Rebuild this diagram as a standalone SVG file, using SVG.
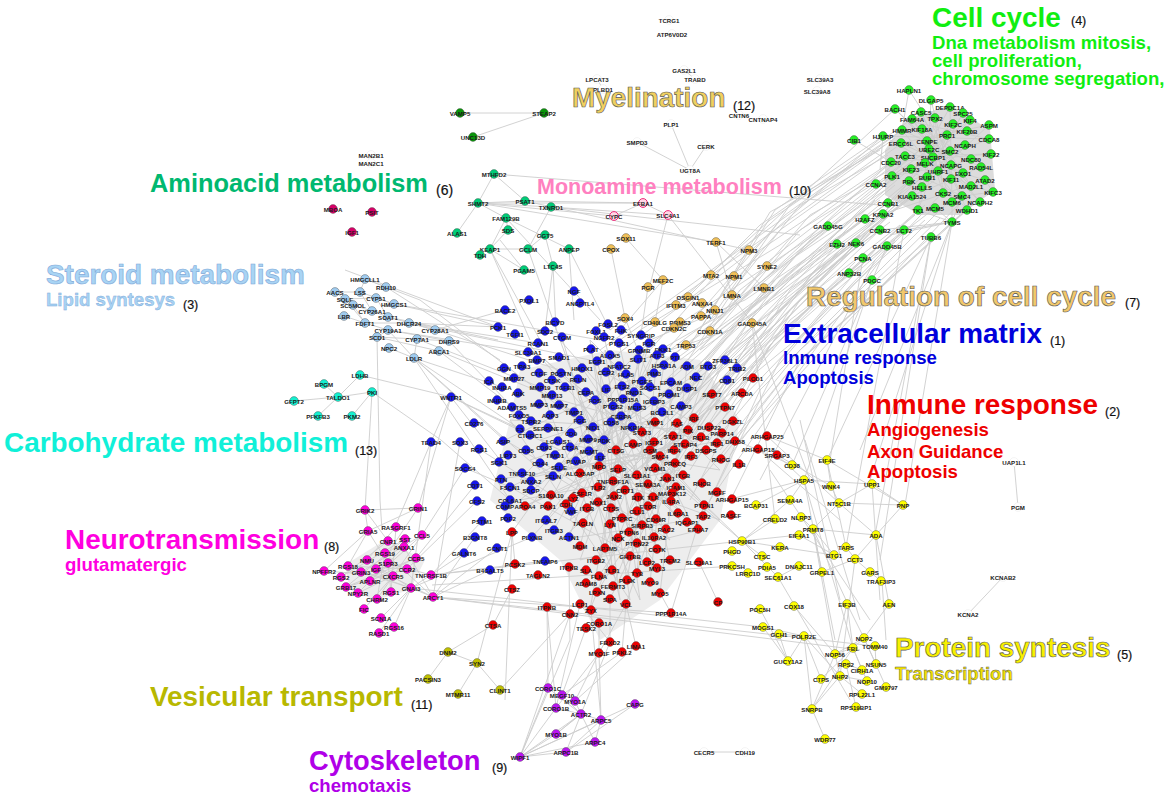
<svg xmlns="http://www.w3.org/2000/svg" width="1166" height="797" viewBox="0 0 1166 797">
<style>
text{font-family:"Liberation Sans",Arial,sans-serif}
#nodes text{font-size:6.1px;font-weight:bold;fill:#1a1a1a;text-anchor:middle;dominant-baseline:central}
#nodes circle{r:4.4px;stroke:#444;stroke-width:.4}
.g circle{fill:#26f026}.t circle{fill:#f0c058}.b circle{fill:#1616f0}.r circle{fill:#f00000}.y circle{fill:#ffff00}
.m circle{fill:#ff00dc}.p circle{fill:#bc14f4}.s circle{fill:#a0ccf0}.c circle{fill:#14f0d0}.a circle{fill:#00cc78}
.d circle{fill:#0a960a}.o circle{fill:#c0c000}.k circle{fill:#d80068}
.q circle{fill:#ffd8e6;stroke:#ee2878!important;stroke-width:1!important}
.w circle{fill:#fff;stroke:#e4e4e4!important}
.e{fill:none;stroke:#cdcdcd;stroke-width:.9}
.f{stroke:none}
.L{font-weight:bold;font-size:27.9px}
.S{font-weight:bold;font-size:18.6px}
.n{font-size:12.5px;fill:#111;stroke:#111;stroke-width:.2}
.o1{stroke:#555;stroke-width:.6}
</style>
<g id="connectors">
<path class="f" fill="#dcdcdc" d="M905 120L950 105L990 130L995 190L960 215L920 215L885 195L885 150Z"/>
<path class="f" fill="#ededed" d="M520 370L610 350L700 360L740 420L720 520L660 600L600 640L560 560L490 500L510 420Z"/>
<path class="f" fill="#ededed" d="M345 565L385 540L425 560L410 590L375 600L350 590Z"/>
<path class="e" d="M473 137L544 113M460 113L544 113M494 174L478 203M494 174L525 201M494 174L880 205M478 203L525 201M478 203L551 207M478 203L457 233M478 203L506 218M478 203L614 216M478 203L716 242M478 203L643 203M525 201L749 250M551 207L528 249M551 207L800 235M525 201L643 203M551 207L668 215M506 218L508 230M506 218L490 249M506 218L569 249M506 218L600 320M508 230L490 249M490 249L528 249M490 249L524 270M490 249L540 340M490 249L530 340M545 235L528 249M545 235L553 266M528 249L560 340M569 249L574 320M569 249L610 330M553 266L556 330M553 266L545 330M524 270L500 240M643 203L614 216M668 215L750 320M668 215L650 285M643 203L668 215M626 238L663 280M611 249L625 318M716 242L764 288M716 242L732 295M663 280L620 330M648 287L640 340M625 318L610 330M625 318L650 380M663 280L655 322"/>
<path class="e" d="M684 70L695 79M597 79L603 89M671 124L690 170M637 142L690 170M706 146L690 170M1014 462L1018 507M704 752L745 752M1003 577L968 614"/>
<path class="e" d="M854 140L891 162M909 90L902 130M883 136L880 170M952 222L935 208M952 222L952 202M952 222L967 210M952 222L918 210M952 222L962 196M952 222L904 230M952 222L880 230M952 222L890 235M993 192L985 180M993 192L971 186M993 192L962 196M952 222L860 450M931 237L880 560M952 222L905 505M931 237L875 535M904 230L846 547M872 280L804 480M875 260L760 480M863 258L830 460M887 246L792 465M931 237L827 460M952 222L870 480M828 226L620 400M837 244L690 420M856 243L700 400M752 323L810 480M752 323L775 519"/>
<path class="e" d="M880 150L770 212L700 330M883 136L775 210L690 345M891 162L760 250L688 360M876 184L740 290L700 345M888 203L745 300L650 340M883 214L730 330L640 360M865 219L720 330L660 385M880 230L735 340L680 400M904 230L770 340L700 400M912 196L760 320L670 420M909 181L750 310L690 380M892 176L730 310L660 350M902 143L780 230L700 320M902 130L770 220L676 305M912 119L760 225L688 297M905 156L770 260L710 331M922 187L780 300L730 370M935 208L790 320L700 437M918 210L775 340L680 440M952 222L790 370L700 480M931 237L800 350L720 450M887 246L780 340L650 460M863 258L730 390L660 500M837 244L680 360M856 243L700 350M828 226L640 350M880 230L700 400L620 480M904 230L740 400L640 510M895 109L720 270L650 350M883 136L740 260L610 360M891 162L720 320L625 390M950 200L760 390L703 516M967 210L790 370L721 459M935 180L790 290L735 380M960 215L800 360L731 499M920 160L770 290L620 400M900 170L750 320L655 470M875 200L720 360L640 470M885 215L700 400L600 500"/>
<path class="e" d="M885 145L790 205L710 320M888 155L800 205L725 300M890 170L810 215L720 320M880 180L800 230L700 350M885 190L810 240L705 360M880 200L790 260L695 370M885 205L800 265L670 380M880 215L790 280L660 400M890 222L800 290L675 410M900 225L810 295L690 420M915 215L815 300L705 430M925 220L825 310L715 440M940 218L830 325L730 455M900 200L790 310L730 400M895 185L780 280L705 380M905 170L790 260L670 350M895 160L780 245L640 330M890 148L775 230L620 340M895 138L770 228L600 350M905 128L785 215L645 375M920 150L800 250L680 395M930 170L810 280L650 440M945 190L820 320L710 410M958 205L840 330L740 440M925 205L830 290L620 470M915 190L815 270L660 480M905 200L800 300L690 470M895 210L780 320L640 440M870 232L770 320L610 450M860 235L760 330L600 440M845 245L750 340L670 470M855 262L770 345L690 500M875 250L780 360L700 520M895 240L800 370L710 500"/>
<path class="e" d="M909 90L971 186L905 120L989 139L892 176L970 120L888 203L965 145L876 184L953 124L912 196L981 167L902 130L967 210L921 112L962 196L891 162L991 154L905 156L985 180L883 214L947 135L918 210L935 118L943 193L927 141L952 202L950 107L909 181L971 159L922 129L963 173L901 143L989 125L922 187L963 113L927 177L931 100L951 179L912 119L980 202L929 149L892 176L951 165L938 171L925 163L933 157L950 151L911 169L989 139L883 136L971 186L895 109L963 173"/>
<path class="e" d="M530 345L680 520L560 400L700 440L520 480L640 350L600 560L660 400L540 440L720 470L590 340L630 600L510 420L690 430L570 520L650 340L610 480L720 520L545 360L680 470L520 500L620 420L700 500L560 340L640 560L580 400L670 540L505 440L630 380L590 610L680 380L555 470L725 440L600 370L612 570L540 387L670 500L580 460L700 380L625 520L530 460L650 420L600 500L720 400L560 540L690 520L605 350L640 600L570 440L660 570L510 487L610 440L655 350L580 560L700 530L552 395L640 480L596 390L680 440L525 506L620 460L650 530L595 400L620 600L570 380L660 456L500 479M619 366L548 506M626 374L512 532M622 386L580 546M623 399L569 537M613 406L610 524M621 416L546 520M611 422L554 530M632 427L532 537M597 361L642 525M582 368L687 522M562 337L618 538M591 349L637 543M604 337L657 549M619 343L670 560M638 359L647 562M657 355L637 573M664 365L627 580M675 357L650 582M687 366L660 593M708 366L626 604M696 377L613 586M727 380L599 576M737 368L597 592M725 360L610 599"/>
<path class="e" d="M394 304L600 340M409 323L590 360M435 330L560 370M439 351L560 400M417 339L540 387M409 323L538 343M388 330L528 352M414 358L540 470M414 358L520 429M414 358L502 387M414 358L510 500M439 351L531 421M449 341L512 407M377 337L380 500L382 530M386 287L500 360M435 330L505 310M345 270L498 327M394 304L498 327M409 323L498 327M365 279L420 300L590 430M388 317L498 340M372 392L441 440L510 500M360 375L451 397L560 450M451 397L418 508M451 397L520 429M451 397L431 442M451 397L500 460M372 392L338 397M360 375L338 397M324 384L338 397M294 401L338 397M318 416L338 397M352 416L372 392M372 392L365 510M414 358L438 380L504 440M335 292L360 292M335 292L353 305M345 299L376 298M360 292L365 279M360 292L394 304M376 298L394 304M372 311L388 317M372 311L353 305M365 323L409 323M365 323L388 330M365 323L344 316M353 305L365 323M345 299L365 323M377 337L417 339M377 337L439 351M377 337L388 330M388 330L414 358M389 348L414 358M409 323L435 330M388 330L449 341M417 339L449 341M417 339L414 358M388 317L435 330M365 279L386 287M360 292L372 311M376 298L388 317"/>
<path class="e" d="M431 442L395 527M431 442L411 588M460 442L433 597M465 468L422 535M475 485L416 558M477 501L407 569M482 521L431 575M465 468L510 487M479 449L560 500M512 532L515 564M512 532L505 700M505 506L510 500M475 537L433 597M464 553L411 588M497 548L433 597M490 570L433 597M532 537L411 588M545 561L431 575M512 589L493 625M569 567L570 640L520 757M547 607L556 708M547 607L548 688M570 614L520 757M570 614L500 690M512 532L477 663M493 625L448 652M448 652L477 663M448 652L428 679M477 663L458 694M477 663L500 690M433 597L875 646M433 597L860 650M411 588L763 627M431 575L742 541M432 585L735 566M433 597L671 613M699 562L718 602M704 505L671 613M660 593L671 613M626 604L636 646M626 604L622 652M626 604L599 653M610 599L610 642M599 623L599 653M586 628L562 695M599 653L575 701M599 653L601 720M599 653L556 708M610 642L581 714M622 652L562 695M636 646L575 701M580 604L610 642M591 610L601 720M580 604L556 708"/>
<path class="e" d="M520 757L548 688M520 757L556 708M520 757L581 714M520 757L556 734M520 757L566 752M520 757L595 742M520 757L635 704M520 757L601 720M548 688L581 714M562 695L581 714M575 701L581 714M581 714L601 720M581 714L566 752M581 714L595 742M581 714L556 734M601 720L566 752M601 720L595 742M635 704L566 752M556 708L581 714M556 734L581 714"/>
<path class="e" d="M365 510L418 508M365 510L368 531M365 510L388 541M368 531L324 571M368 531L348 566M368 531L388 563M418 508L368 531M418 508L388 553M396 527L367 560M422 535L361 572M405 539L346 587M388 541L341 577M404 547L358 593M385 553L377 599M416 558L370 581M367 560L411 588M388 563L391 592M348 566L407 569M376 569L433 597M407 569L346 587M361 572L411 588M393 576L358 593M431 575L388 563M341 577L405 539M324 571L393 576M370 581L422 535M346 587L416 558M411 588L433 597M411 588L381 618M411 588L394 627M411 588L379 633M377 599L422 535M364 609L393 576M391 592L396 527M411 588L348 566M433 597L385 553M433 597L404 547"/>
<path class="e" d="M767 436L827 460M767 436L839 503M758 449L840 520M777 455L831 486M777 455L804 480M735 440L792 465M731 499L804 480M804 480L790 500M804 480L872 484M804 480L756 505M804 480L835 640M804 480L853 648M827 460L831 486M827 460L903 505M827 460L846 547M831 486L839 503M872 484L839 503M872 484L903 505M872 484L880 600M839 503L903 505M839 503L876 535M839 503L813 529M903 505L876 535M876 535L889 604M876 535L855 559M813 529L834 555M813 529L876 535M813 529L846 600M813 529L835 654M813 529L822 572M799 535L742 541M799 535L834 555M790 500L742 541M801 517L813 529M775 519L742 541M742 541L780 547M742 541L778 577M742 541L762 556M742 541L700 500M742 541L660 470M780 547L834 555M855 559L822 572M855 559L870 572M855 559L840 676M846 547L855 559M870 572L881 581M889 604L864 638M847 604L853 648M847 604L835 654M847 604L864 638M794 606L835 654M760 609L788 661M763 627L788 661M763 627L804 636M779 634L788 661M779 634L804 636M788 661L804 636M804 636L812 709M804 636L821 679M804 636L840 676M812 709L825 739M812 709L835 654M812 709L853 648M812 709L840 676M821 679L853 648M835 654L864 638M835 654L853 648M835 654L840 676M853 648L864 638M853 648L862 670M853 648L867 681M864 638L886 687M864 638L876 664M846 664L862 670M840 676L867 681M840 676L862 694M846 664L856 707M875 646L876 664M799 566L778 577M778 577L850 700M882 581L886 640M840 600L800 420M860 620L805 440M870 620L770 470"/>
</g>
<g id="nodes">
<g class="w" id="w1" transform="translate(669 20)"><circle/><text>TCRG1</text></g>
<g class="w" id="w2" transform="translate(672 34)"><circle/><text>ATP6V0D2</text></g>
<g class="w" id="w3" transform="translate(597 79)"><circle/><text>LPCAT3</text></g>
<g class="w" id="w4" transform="translate(603 89)"><circle/><text>PLBD1</text></g>
<g class="w" id="w5" transform="translate(684 70)"><circle/><text>GAS2L1</text></g>
<g class="w" id="w6" transform="translate(695 79)"><circle/><text>TRABD</text></g>
<g class="w" id="w7" transform="translate(820 79)"><circle/><text>SLC39A3</text></g>
<g class="w" id="w8" transform="translate(817 91)"><circle/><text>SLC39A8</text></g>
<g class="w" id="w9" transform="translate(739 115)"><circle/><text>CNTN6</text></g>
<g class="w" id="w10" transform="translate(763 119)"><circle/><text>CNTNAP4</text></g>
<g class="w" id="w11" transform="translate(671 124)"><circle/><text>PLP1</text></g>
<g class="w" id="w12" transform="translate(637 142)"><circle/><text>SMPD3</text></g>
<g class="w" id="w13" transform="translate(706 146)"><circle/><text>CERK</text></g>
<g class="w" id="w14" transform="translate(690 170)"><circle/><text>UGT8A</text></g>
<g class="w" id="w15" transform="translate(371 155)"><circle/><text>MAN2B1</text></g>
<g class="w" id="w16" transform="translate(371 163)"><circle/><text>MAN2C1</text></g>
<g class="w" id="w17" transform="translate(1014 462)"><circle/><text>UAP1L1</text></g>
<g class="w" id="w18" transform="translate(1018 507)"><circle/><text>PGM</text></g>
<g class="w" id="w19" transform="translate(1003 577)"><circle/><text>KCNAB2</text></g>
<g class="w" id="w20" transform="translate(968 614)"><circle/><text>KCNA2</text></g>
<g class="w" id="w21" transform="translate(704 752)"><circle/><text>CECR5</text></g>
<g class="w" id="w22" transform="translate(745 752)"><circle/><text>CDH19</text></g>
<g class="d" id="d1" transform="translate(460 113)"><circle/><text>VAMP5</text></g>
<g class="d" id="d2" transform="translate(544 113)"><circle/><text>STEAP2</text></g>
<g class="d" id="d3" transform="translate(473 137)"><circle/><text>UNC13D</text></g>
<g class="k" id="k1" transform="translate(333 209)"><circle/><text>MBOA</text></g>
<g class="k" id="k2" transform="translate(372 212)"><circle/><text>PSIT</text></g>
<g class="k" id="k3" transform="translate(352 232)"><circle/><text>IGF1</text></g>
<g class="g" id="g1" transform="translate(909 90)"><circle/><text>HAPLN1</text></g>
<g class="g" id="g2" transform="translate(931 100)"><circle/><text>DLGAP5</text></g>
<g class="g" id="g3" transform="translate(950 107)"><circle/><text>DEPDC1A</text></g>
<g class="g" id="g4" transform="translate(895 109)"><circle/><text>BACH1</text></g>
<g class="g" id="g5" transform="translate(921 112)"><circle/><text>CASC5</text></g>
<g class="g" id="g6" transform="translate(963 113)"><circle/><text>SPC25</text></g>
<g class="g" id="g7" transform="translate(970 120)"><circle/><text>KIF4</text></g>
<g class="g" id="g8" transform="translate(935 118)"><circle/><text>TPX2</text></g>
<g class="g" id="g9" transform="translate(912 119)"><circle/><text>FAM64A</text></g>
<g class="g" id="g10" transform="translate(953 124)"><circle/><text>KIF2C</text></g>
<g class="g" id="g11" transform="translate(989 125)"><circle/><text>ASPM</text></g>
<g class="g" id="g12" transform="translate(902 130)"><circle/><text>HMMR</text></g>
<g class="g" id="g13" transform="translate(922 129)"><circle/><text>KIF18A</text></g>
<g class="g" id="g14" transform="translate(967 131)"><circle/><text>KIF20B</text></g>
<g class="g" id="g15" transform="translate(947 135)"><circle/><text>PRC1</text></g>
<g class="g" id="g16" transform="translate(989 139)"><circle/><text>CDCA8</text></g>
<g class="g" id="g17" transform="translate(883 136)"><circle/><text>HJURP</text></g>
<g class="g" id="g18" transform="translate(854 140)"><circle/><text>CIB1</text></g>
<g class="g" id="g19" transform="translate(901 143)"><circle/><text>ERCC6L</text></g>
<g class="g" id="g20" transform="translate(927 141)"><circle/><text>CENPE</text></g>
<g class="g" id="g21" transform="translate(965 145)"><circle/><text>NCAPH</text></g>
<g class="g" id="g22" transform="translate(929 149)"><circle/><text>UBE2C</text></g>
<g class="g" id="g23" transform="translate(950 151)"><circle/><text>SMC2</text></g>
<g class="g" id="g24" transform="translate(991 154)"><circle/><text>KIF22</text></g>
<g class="g" id="g25" transform="translate(905 156)"><circle/><text>TACC3</text></g>
<g class="g" id="g26" transform="translate(933 157)"><circle/><text>SHCBP1</text></g>
<g class="g" id="g27" transform="translate(971 159)"><circle/><text>NDC80</text></g>
<g class="g" id="g28" transform="translate(891 162)"><circle/><text>CDC20</text></g>
<g class="g" id="g29" transform="translate(925 163)"><circle/><text>MELK</text></g>
<g class="g" id="g30" transform="translate(951 165)"><circle/><text>NCAPG</text></g>
<g class="g" id="g31" transform="translate(981 167)"><circle/><text>RAD54L</text></g>
<g class="g" id="g32" transform="translate(911 169)"><circle/><text>KIF23</text></g>
<g class="g" id="g33" transform="translate(938 171)"><circle/><text>UHRF1</text></g>
<g class="g" id="g34" transform="translate(963 173)"><circle/><text>EXO1</text></g>
<g class="g" id="g35" transform="translate(892 176)"><circle/><text>PLK1</text></g>
<g class="g" id="g36" transform="translate(927 177)"><circle/><text>BUB1</text></g>
<g class="g" id="g37" transform="translate(951 179)"><circle/><text>KIF11</text></g>
<g class="g" id="g38" transform="translate(985 180)"><circle/><text>ATAD2</text></g>
<g class="g" id="g39" transform="translate(909 181)"><circle/><text>PBK</text></g>
<g class="g" id="g40" transform="translate(876 184)"><circle/><text>CCNA2</text></g>
<g class="g" id="g41" transform="translate(971 186)"><circle/><text>MAD2L1</text></g>
<g class="g" id="g42" transform="translate(922 187)"><circle/><text>HELLS</text></g>
<g class="g" id="g43" transform="translate(993 192)"><circle/><text>KIFC3</text></g>
<g class="g" id="g44" transform="translate(943 193)"><circle/><text>CKS2</text></g>
<g class="g" id="g45" transform="translate(962 196)"><circle/><text>SMC4</text></g>
<g class="g" id="g46" transform="translate(912 196)"><circle/><text>KIAA1524</text></g>
<g class="g" id="g47" transform="translate(952 202)"><circle/><text>MCM6</text></g>
<g class="g" id="g48" transform="translate(980 202)"><circle/><text>NCAPH2</text></g>
<g class="g" id="g49" transform="translate(888 203)"><circle/><text>CCNB1</text></g>
<g class="g" id="g50" transform="translate(935 208)"><circle/><text>MCM5</text></g>
<g class="g" id="g51" transform="translate(967 210)"><circle/><text>WDHD1</text></g>
<g class="g" id="g52" transform="translate(918 210)"><circle/><text>TK1</text></g>
<g class="g" id="g53" transform="translate(883 214)"><circle/><text>KPNA2</text></g>
<g class="g" id="g54" transform="translate(865 219)"><circle/><text>H2AFZ</text></g>
<g class="g" id="g55" transform="translate(952 222)"><circle/><text>TYMS</text></g>
<g class="g" id="g56" transform="translate(828 226)"><circle/><text>GADD45G</text></g>
<g class="g" id="g57" transform="translate(880 230)"><circle/><text>CCNB2</text></g>
<g class="g" id="g58" transform="translate(904 230)"><circle/><text>ECT2</text></g>
<g class="g" id="g59" transform="translate(931 237)"><circle/><text>TUBB6</text></g>
<g class="g" id="g60" transform="translate(837 244)"><circle/><text>EZH2</text></g>
<g class="g" id="g61" transform="translate(856 243)"><circle/><text>NEK6</text></g>
<g class="g" id="g62" transform="translate(887 246)"><circle/><text>GADD45B</text></g>
<g class="g" id="g63" transform="translate(863 258)"><circle/><text>PCNA</text></g>
<g class="g" id="g64" transform="translate(849 273)"><circle/><text>ANP32B</text></g>
<g class="g" id="g65" transform="translate(872 280)"><circle/><text>PDGC</text></g>
<g class="t" id="t1" transform="translate(716 242)"><circle/><text>TERF1</text></g>
<g class="t" id="t2" transform="translate(749 250)"><circle/><text>NPM3</text></g>
<g class="t" id="t3" transform="translate(767 266)"><circle/><text>SYNE2</text></g>
<g class="t" id="t4" transform="translate(711 275)"><circle/><text>MTA2</text></g>
<g class="t" id="t5" transform="translate(734 276)"><circle/><text>NPM1</text></g>
<g class="t" id="t6" transform="translate(764 288)"><circle/><text>LMNB1</text></g>
<g class="t" id="t7" transform="translate(732 295)"><circle/><text>LMNA</text></g>
<g class="t" id="t8" transform="translate(663 280)"><circle/><text>MEF2C</text></g>
<g class="t" id="t9" transform="translate(648 287)"><circle/><text>PGR</text></g>
<g class="t" id="t10" transform="translate(688 297)"><circle/><text>OSGIN1</text></g>
<g class="t" id="t11" transform="translate(702 303)"><circle/><text>ANXA4</text></g>
<g class="t" id="t12" transform="translate(676 305)"><circle/><text>IFITM3</text></g>
<g class="t" id="t13" transform="translate(715 310)"><circle/><text>NINJ1</text></g>
<g class="t" id="t14" transform="translate(701 316)"><circle/><text>PAPPA</text></g>
<g class="t" id="t15" transform="translate(625 318)"><circle/><text>SOX4</text></g>
<g class="t" id="t16" transform="translate(752 323)"><circle/><text>GADD45A</text></g>
<g class="t" id="t17" transform="translate(655 322)"><circle/><text>CD40LG</text></g>
<g class="t" id="t18" transform="translate(680 322)"><circle/><text>RBMS3</text></g>
<g class="t" id="t19" transform="translate(674 328)"><circle/><text>CDKN2C</text></g>
<g class="t" id="t20" transform="translate(710 331)"><circle/><text>CDKN1A</text></g>
<g class="t" id="t21" transform="translate(686 345)"><circle/><text>TRP53</text></g>
<g class="t" id="t22" transform="translate(626 238)"><circle/><text>SOX11</text></g>
<g class="t" id="t23" transform="translate(611 249)"><circle/><text>CPOX</text></g>
<g class="q" id="q1" transform="translate(643 203)"><circle/><text>EFBA1</text></g>
<g class="q" id="q2" transform="translate(614 216)"><circle/><text>CYPC</text></g>
<g class="q" id="q3" transform="translate(668 215)"><circle/><text>SLC4A1</text></g>
<g class="a" id="a1" transform="translate(494 174)"><circle/><text>MTHFD2</text></g>
<g class="a" id="a2" transform="translate(478 203)"><circle/><text>SHMT2</text></g>
<g class="a" id="a3" transform="translate(525 201)"><circle/><text>PSAT1</text></g>
<g class="a" id="a4" transform="translate(551 207)"><circle/><text>TXNRD1</text></g>
<g class="a" id="a5" transform="translate(506 218)"><circle/><text>FAM129B</text></g>
<g class="a" id="a6" transform="translate(508 230)"><circle/><text>SDS</text></g>
<g class="a" id="a7" transform="translate(457 233)"><circle/><text>ALAS1</text></g>
<g class="a" id="a8" transform="translate(545 235)"><circle/><text>GGT5</text></g>
<g class="a" id="a9" transform="translate(490 249)"><circle/><text>KEAP1</text></g>
<g class="a" id="a10" transform="translate(480 255)"><circle/><text>TDH</text></g>
<g class="a" id="a11" transform="translate(528 249)"><circle/><text>GCLM</text></g>
<g class="a" id="a12" transform="translate(569 249)"><circle/><text>ANPEP</text></g>
<g class="a" id="a13" transform="translate(553 266)"><circle/><text>LTC4S</text></g>
<g class="a" id="a14" transform="translate(524 270)"><circle/><text>PGAM5</text></g>
<g class="s" id="s1" transform="translate(365 279)"><circle/><text>HMGCLL1</text></g>
<g class="s" id="s2" transform="translate(386 287)"><circle/><text>RDH10</text></g>
<g class="s" id="s3" transform="translate(335 292)"><circle/><text>AACS</text></g>
<g class="s" id="s4" transform="translate(360 292)"><circle/><text>LSS</text></g>
<g class="s" id="s5" transform="translate(376 298)"><circle/><text>CYP51</text></g>
<g class="s" id="s6" transform="translate(345 299)"><circle/><text>SQLE</text></g>
<g class="s" id="s7" transform="translate(394 304)"><circle/><text>HMGCS1</text></g>
<g class="s" id="s8" transform="translate(353 305)"><circle/><text>SC5MOL</text></g>
<g class="s" id="s9" transform="translate(372 311)"><circle/><text>CYP26A1</text></g>
<g class="s" id="s10" transform="translate(388 317)"><circle/><text>SOAT1</text></g>
<g class="s" id="s11" transform="translate(344 316)"><circle/><text>LBR</text></g>
<g class="s" id="s12" transform="translate(365 323)"><circle/><text>FDFT1</text></g>
<g class="s" id="s13" transform="translate(409 323)"><circle/><text>DHCR24</text></g>
<g class="s" id="s14" transform="translate(388 330)"><circle/><text>CYP19A1</text></g>
<g class="s" id="s15" transform="translate(435 330)"><circle/><text>CYP28A1</text></g>
<g class="s" id="s16" transform="translate(377 337)"><circle/><text>SCD1</text></g>
<g class="s" id="s17" transform="translate(417 339)"><circle/><text>CYP7A1</text></g>
<g class="s" id="s18" transform="translate(449 341)"><circle/><text>DHRS9</text></g>
<g class="s" id="s19" transform="translate(389 348)"><circle/><text>NPC2</text></g>
<g class="s" id="s20" transform="translate(439 351)"><circle/><text>ABCA1</text></g>
<g class="s" id="s21" transform="translate(414 358)"><circle/><text>LDLR</text></g>
<g class="c" id="c1" transform="translate(360 375)"><circle/><text>LDHB</text></g>
<g class="c" id="c2" transform="translate(324 384)"><circle/><text>BPGM</text></g>
<g class="c" id="c3" transform="translate(372 392)"><circle/><text>PKI</text></g>
<g class="c" id="c4" transform="translate(338 397)"><circle/><text>TALDO1</text></g>
<g class="c" id="c5" transform="translate(294 401)"><circle/><text>GFPT2</text></g>
<g class="c" id="c6" transform="translate(318 416)"><circle/><text>PFKFB3</text></g>
<g class="c" id="c7" transform="translate(352 416)"><circle/><text>PKM2</text></g>
<g class="b" id="b1" transform="translate(574 291)"><circle/><text>NGF</text></g>
<g class="b" id="b2" transform="translate(580 303)"><circle/><text>ANGPTL4</text></g>
<g class="b" id="b3" transform="translate(529 300)"><circle/><text>PXDL1</text></g>
<g class="b" id="b4" transform="translate(505 310)"><circle/><text>BACE2</text></g>
<g class="b" id="b5" transform="translate(498 327)"><circle/><text>PCK1</text></g>
<g class="b" id="b6" transform="translate(515 334)"><circle/><text>TGFI1</text></g>
<g class="b" id="b7" transform="translate(555 322)"><circle/><text>BICYD</text></g>
<g class="b" id="b8" transform="translate(545 331)"><circle/><text>SDC2</text></g>
<g class="b" id="b9" transform="translate(562 337)"><circle/><text>CTGM</text></g>
<g class="b" id="b10" transform="translate(538 343)"><circle/><text>RCAN1</text></g>
<g class="b" id="b11" transform="translate(528 352)"><circle/><text>SLC39A1</text></g>
<g class="b" id="b12" transform="translate(559 357)"><circle/><text>SMAD1</text></g>
<g class="b" id="b13" transform="translate(537 360)"><circle/><text>BMP7</text></g>
<g class="b" id="b14" transform="translate(522 366)"><circle/><text>TIPA3</text></g>
<g class="b" id="b15" transform="translate(504 368)"><circle/><text>GGN</text></g>
<g class="b" id="b16" transform="translate(539 373)"><circle/><text>CTGF</text></g>
<g class="b" id="b17" transform="translate(561 373)"><circle/><text>POSTN</text></g>
<g class="b" id="b18" transform="translate(514 378)"><circle/><text>MMP27</text></g>
<g class="b" id="b19" transform="translate(552 380)"><circle/><text>CTSK</text></g>
<g class="b" id="b20" transform="translate(489 381)"><circle/><text>ICA</text></g>
<g class="b" id="b21" transform="translate(578 379)"><circle/><text>RELN</text></g>
<g class="b" id="b22" transform="translate(502 387)"><circle/><text>INHBA</text></g>
<g class="b" id="b23" transform="translate(540 387)"><circle/><text>MMP19</text></g>
<g class="b" id="b24" transform="translate(565 387)"><circle/><text>TGFB1</text></g>
<g class="b" id="b25" transform="translate(518 393)"><circle/><text>ABK</text></g>
<g class="b" id="b26" transform="translate(451 397)"><circle/><text>WNTR1</text></g>
<g class="b" id="b27" transform="translate(497 400)"><circle/><text>INHBB</text></g>
<g class="b" id="b28" transform="translate(552 395)"><circle/><text>MMP13</text></g>
<g class="b" id="b29" transform="translate(512 407)"><circle/><text>ADAMTS5</text></g>
<g class="b" id="b30" transform="translate(539 404)"><circle/><text>MMP3</text></g>
<g class="b" id="b31" transform="translate(559 405)"><circle/><text>MMP7</text></g>
<g class="b" id="b32" transform="translate(519 415)"><circle/><text>FOXO5</text></g>
<g class="b" id="b33" transform="translate(550 415)"><circle/><text>AQP3</text></g>
<g class="b" id="b34" transform="translate(574 412)"><circle/><text>TIMP1</text></g>
<g class="b" id="b35" transform="translate(531 421)"><circle/><text>TSPB2</text></g>
<g class="b" id="b36" transform="translate(580 420)"><circle/><text>FGG</text></g>
<g class="b" id="b37" transform="translate(474 423)"><circle/><text>CD276</text></g>
<g class="b" id="b38" transform="translate(548 428)"><circle/><text>SERPINE1</text></g>
<g class="b" id="b39" transform="translate(593 427)"><circle/><text>NID1</text></g>
<g class="b" id="b40" transform="translate(520 429)"><circle/><text>F3</text></g>
<g class="b" id="b41" transform="translate(530 435)"><circle/><text>CTHRC1</text></g>
<g class="b" id="b42" transform="translate(571 433)"><circle/><text>CD9</text></g>
<g class="b" id="b43" transform="translate(608 324)"><circle/><text>FOSL2</text></g>
<g class="b" id="b44" transform="translate(596 331)"><circle/><text>FOXL1</text></g>
<g class="b" id="b45" transform="translate(621 330)"><circle/><text>FHK</text></g>
<g class="b" id="b46" transform="translate(604 337)"><circle/><text>NGFR2</text></g>
<g class="b" id="b47" transform="translate(619 343)"><circle/><text>PTGS1</text></g>
<g class="b" id="b48" transform="translate(591 349)"><circle/><text>PLAT</text></g>
<g class="b" id="b49" transform="translate(610 355)"><circle/><text>ALOX5</text></g>
<g class="b" id="b50" transform="translate(597 361)"><circle/><text>EGR1</text></g>
<g class="b" id="b51" transform="translate(619 366)"><circle/><text>NFATC2</text></g>
<g class="b" id="b52" transform="translate(606 372)"><circle/><text>CCR2</text></g>
<g class="b" id="b53" transform="translate(582 368)"><circle/><text>HMOX1</text></g>
<g class="b" id="b54" transform="translate(626 374)"><circle/><text>HLA5</text></g>
<g class="b" id="b55" transform="translate(622 386)"><circle/><text>ETS2</text></g>
<g class="b" id="b56" transform="translate(606 389)"><circle/><text>LIF</text></g>
<g class="b" id="b57" transform="translate(586 392)"><circle/><text>CEPA</text></g>
<g class="b" id="b58" transform="translate(595 400)"><circle/><text>FOS</text></g>
<g class="b" id="b59" transform="translate(623 399)"><circle/><text>PPP1R15A</text></g>
<g class="b" id="b60" transform="translate(613 406)"><circle/><text>PTGS2</text></g>
<g class="b" id="b61" transform="translate(621 416)"><circle/><text>CEBPA</text></g>
<g class="b" id="b62" transform="translate(611 422)"><circle/><text>CD58</text></g>
<g class="b" id="b63" transform="translate(632 427)"><circle/><text>NFKBIA</text></g>
<g class="b" id="b64" transform="translate(641 335)"><circle/><text>SYNGRIP</text></g>
<g class="b" id="b65" transform="translate(649 343)"><circle/><text>FGR</text></g>
<g class="b" id="b66" transform="translate(639 350)"><circle/><text>GPNMB</text></g>
<g class="b" id="b67" transform="translate(663 349)"><circle/><text>DKK1</text></g>
<g class="b" id="b68" transform="translate(638 359)"><circle/><text>SLIT1</text></g>
<g class="b" id="b69" transform="translate(657 355)"><circle/><text>ATF3</text></g>
<g class="b" id="b70" transform="translate(675 357)"><circle/><text>PTI</text></g>
<g class="b" id="b71" transform="translate(664 365)"><circle/><text>HSPA1A</text></g>
<g class="b" id="b72" transform="translate(687 366)"><circle/><text>ADM</text></g>
<g class="b" id="b73" transform="translate(708 366)"><circle/><text>BTG3</text></g>
<g class="b" id="b74" transform="translate(725 360)"><circle/><text>ZFP36L1</text></g>
<g class="b" id="b75" transform="translate(737 368)"><circle/><text>TRIB2</text></g>
<g class="b" id="b76" transform="translate(696 377)"><circle/><text>NEC</text></g>
<g class="b" id="b77" transform="translate(654 373)"><circle/><text>PIM3</text></g>
<g class="b" id="b78" transform="translate(727 380)"><circle/><text>CD81</text></g>
<g class="b" id="b79" transform="translate(642 381)"><circle/><text>PTGES</text></g>
<g class="b" id="b80" transform="translate(650 387)"><circle/><text>SOCS1</text></g>
<g class="b" id="b81" transform="translate(671 382)"><circle/><text>EPCAM</text></g>
<g class="b" id="b82" transform="translate(687 388)"><circle/><text>DUSP1</text></g>
<g class="b" id="b83" transform="translate(634 392)"><circle/><text>RND1</text></g>
<g class="b" id="b84" transform="translate(669 394)"><circle/><text>PROM1</text></g>
<g class="b" id="b85" transform="translate(654 401)"><circle/><text>IGFBP3</text></g>
<g class="b" id="b86" transform="translate(637 407)"><circle/><text>MEIS3</text></g>
<g class="b" id="b87" transform="translate(681 406)"><circle/><text>CAMP3</text></g>
<g class="b" id="b88" transform="translate(662 412)"><circle/><text>BCL2L1</text></g>
<g class="b" id="b89" transform="translate(431 442)"><circle/><text>TEAD4</text></g>
<g class="b" id="b90" transform="translate(460 442)"><circle/><text>SOX3</text></g>
<g class="b" id="b91" transform="translate(479 449)"><circle/><text>RGS1</text></g>
<g class="b" id="b92" transform="translate(503 441)"><circle/><text>ASIP</text></g>
<g class="b" id="b93" transform="translate(526 450)"><circle/><text>CD55</text></g>
<g class="b" id="b94" transform="translate(544 447)"><circle/><text>CD93</text></g>
<g class="b" id="b95" transform="translate(558 441)"><circle/><text>LGALS1</text></g>
<g class="b" id="b96" transform="translate(570 447)"><circle/><text>CTSA</text></g>
<g class="b" id="b97" transform="translate(588 439)"><circle/><text>MMP9</text></g>
<g class="b" id="b98" transform="translate(604 440)"><circle/><text>PDK</text></g>
<g class="b" id="b99" transform="translate(589 451)"><circle/><text>MGMT</text></g>
<g class="b" id="b100" transform="translate(600 457)"><circle/><text>LEF</text></g>
<g class="b" id="b101" transform="translate(508 455)"><circle/><text>LIPT3</text></g>
<g class="b" id="b102" transform="translate(555 455)"><circle/><text>TIMD1</text></g>
<g class="b" id="b103" transform="translate(576 461)"><circle/><text>PLVAP</text></g>
<g class="b" id="b104" transform="translate(499 462)"><circle/><text>SGK1</text></g>
<g class="b" id="b105" transform="translate(540 463)"><circle/><text>CD44</text></g>
<g class="b" id="b106" transform="translate(559 467)"><circle/><text>SELE</text></g>
<g class="b" id="b107" transform="translate(465 468)"><circle/><text>SOCS4</text></g>
<g class="b" id="b108" transform="translate(522 473)"><circle/><text>TNFSF10</text></g>
<g class="b" id="b109" transform="translate(553 476)"><circle/><text>SELN</text></g>
<g class="b" id="b110" transform="translate(501 479)"><circle/><text>PTN</text></g>
<g class="b" id="b111" transform="translate(531 481)"><circle/><text>ANXA2</text></g>
<g class="b" id="b112" transform="translate(475 485)"><circle/><text>CDT1</text></g>
<g class="b" id="b113" transform="translate(510 487)"><circle/><text>FSCN1</text></g>
<g class="b" id="b114" transform="translate(531 490)"><circle/><text>SDCP</text></g>
<g class="b" id="b115" transform="translate(477 501)"><circle/><text>GFS2</text></g>
<g class="b" id="b116" transform="translate(510 500)"><circle/><text>COL6A1</text></g>
<g class="b" id="b117" transform="translate(505 506)"><circle/><text>COMP</text></g>
<g class="b" id="b118" transform="translate(571 511)"><circle/><text>VWF</text></g>
<g class="b" id="b119" transform="translate(482 521)"><circle/><text>PSTM1</text></g>
<g class="b" id="b120" transform="translate(508 518)"><circle/><text>PDF2</text></g>
<g class="b" id="b121" transform="translate(546 520)"><circle/><text>ITGAL7</text></g>
<g class="b" id="b122" transform="translate(475 537)"><circle/><text>B3GNT8</text></g>
<g class="b" id="b123" transform="translate(554 530)"><circle/><text>ITGB3</text></g>
<g class="b" id="b124" transform="translate(532 537)"><circle/><text>PLXNB</text></g>
<g class="b" id="b125" transform="translate(569 537)"><circle/><text>ACTN1</text></g>
<g class="b" id="b126" transform="translate(497 548)"><circle/><text>GCNT1</text></g>
<g class="b" id="b127" transform="translate(464 553)"><circle/><text>GALNT6</text></g>
<g class="b" id="b128" transform="translate(545 561)"><circle/><text>TNFAIP6</text></g>
<g class="b" id="b129" transform="translate(490 570)"><circle/><text>B4GALT5</text></g>
<g class="r" id="r1" transform="translate(616 450)"><circle/><text>CTSG</text></g>
<g class="r" id="r2" transform="translate(642 432)"><circle/><text>STAT3</text></g>
<g class="r" id="r3" transform="translate(633 444)"><circle/><text>CAMP</text></g>
<g class="r" id="r4" transform="translate(654 442)"><circle/><text>IGFP1</text></g>
<g class="r" id="r5" transform="translate(650 450)"><circle/><text>OSM</text></g>
<g class="r" id="r6" transform="translate(674 450)"><circle/><text>IRF4</text></g>
<g class="r" id="r7" transform="translate(673 436)"><circle/><text>STAT1</text></g>
<g class="r" id="r8" transform="translate(685 444)"><circle/><text>STEAP4</text></g>
<g class="r" id="r9" transform="translate(701 437)"><circle/><text>RELB</text></g>
<g class="r" id="r10" transform="translate(722 433)"><circle/><text>PARP14</text></g>
<g class="r" id="r11" transform="translate(735 441)"><circle/><text>DHX58</text></g>
<g class="r" id="r12" transform="translate(717 443)"><circle/><text>IRF1</text></g>
<g class="r" id="r13" transform="translate(706 450)"><circle/><text>DSGPS</text></g>
<g class="r" id="r14" transform="translate(660 456)"><circle/><text>SMC4</text></g>
<g class="r" id="r15" transform="translate(691 456)"><circle/><text>IRF3</text></g>
<g class="r" id="r16" transform="translate(675 463)"><circle/><text>PRKCQ</text></g>
<g class="r" id="r17" transform="translate(721 459)"><circle/><text>RHOG</text></g>
<g class="r" id="r18" transform="translate(618 469)"><circle/><text>SELP</text></g>
<g class="r" id="r19" transform="translate(599 466)"><circle/><text>MPO</text></g>
<g class="r" id="r20" transform="translate(655 468)"><circle/><text>VCAM1</text></g>
<g class="r" id="r21" transform="translate(580 473)"><circle/><text>ALOX5AP</text></g>
<g class="r" id="r22" transform="translate(637 475)"><circle/><text>SLC11A1</text></g>
<g class="r" id="r23" transform="translate(683 475)"><circle/><text>ITGB</text></g>
<g class="r" id="r24" transform="translate(667 478)"><circle/><text>JAK1</text></g>
<g class="r" id="r25" transform="translate(702 483)"><circle/><text>RHOB</text></g>
<g class="r" id="r26" transform="translate(613 481)"><circle/><text>TNFRSF1A</text></g>
<g class="r" id="r27" transform="translate(648 484)"><circle/><text>SEMA3A</text></g>
<g class="r" id="r28" transform="translate(598 487)"><circle/><text>TLR2</text></g>
<g class="r" id="r29" transform="translate(676 487)"><circle/><text>ICAM1</text></g>
<g class="r" id="r30" transform="translate(625 490)"><circle/><text>CIRT1</text></g>
<g class="r" id="r31" transform="translate(582 493)"><circle/><text>CSF1R</text></g>
<g class="r" id="r32" transform="translate(717 492)"><circle/><text>MGEF</text></g>
<g class="r" id="r33" transform="translate(672 493)"><circle/><text>MAP3K12</text></g>
<g class="r" id="r34" transform="translate(614 496)"><circle/><text>JAK2</text></g>
<g class="r" id="r35" transform="translate(638 497)"><circle/><text>BTK</text></g>
<g class="r" id="r36" transform="translate(551 495)"><circle/><text>S100A10</text></g>
<g class="r" id="r37" transform="translate(653 497)"><circle/><text>TLR</text></g>
<g class="r" id="r38" transform="translate(732 499)"><circle/><text>ARHGAP15</text></g>
<g class="r" id="r39" transform="translate(671 501)"><circle/><text>IL4RA</text></g>
<g class="r" id="r40" transform="translate(573 498)"><circle/><text>LYZ</text></g>
<g class="r" id="r41" transform="translate(566 504)"><circle/><text>CDH</text></g>
<g class="r" id="r42" transform="translate(548 506)"><circle/><text>PAK1</text></g>
<g class="r" id="r43" transform="translate(525 506)"><circle/><text>APOA4</text></g>
<g class="r" id="r44" transform="translate(598 502)"><circle/><text>NOX1</text></g>
<g class="r" id="r45" transform="translate(611 508)"><circle/><text>CTSS</text></g>
<g class="r" id="r46" transform="translate(587 508)"><circle/><text>ITGB</text></g>
<g class="r" id="r47" transform="translate(648 506)"><circle/><text>ETOR</text></g>
<g class="r" id="r48" transform="translate(637 511)"><circle/><text>CLL1</text></g>
<g class="r" id="r49" transform="translate(704 505)"><circle/><text>PTPN1</text></g>
<g class="r" id="r50" transform="translate(678 513)"><circle/><text>IL6RA1</text></g>
<g class="r" id="r51" transform="translate(731 515)"><circle/><text>RASEF</text></g>
<g class="r" id="r52" transform="translate(703 516)"><circle/><text>TAP2</text></g>
<g class="r" id="r53" transform="translate(622 518)"><circle/><text>PTPRC</text></g>
<g class="r" id="r54" transform="translate(656 519)"><circle/><text>CD69R</text></g>
<g class="r" id="r55" transform="translate(583 523)"><circle/><text>TAGLN</text></g>
<g class="r" id="r56" transform="translate(610 524)"><circle/><text>LYN</text></g>
<g class="r" id="r57" transform="translate(687 522)"><circle/><text>IQGAP1</text></g>
<g class="r" id="r58" transform="translate(642 525)"><circle/><text>SIRPB3</text></g>
<g class="r" id="r59" transform="translate(666 529)"><circle/><text>RAC2</text></g>
<g class="r" id="r60" transform="translate(698 529)"><circle/><text>EPHA7</text></g>
<g class="r" id="r61" transform="translate(629 532)"><circle/><text>PTPN6</text></g>
<g class="r" id="r62" transform="translate(512 532)"><circle/><text>LPP</text></g>
<g class="r" id="r63" transform="translate(654 537)"><circle/><text>IL10RA2</text></g>
<g class="r" id="r64" transform="translate(618 538)"><circle/><text>NCK</text></g>
<g class="r" id="r65" transform="translate(637 543)"><circle/><text>PTPN22</text></g>
<g class="r" id="r66" transform="translate(580 546)"><circle/><text>MDM</text></g>
<g class="r" id="r67" transform="translate(605 548)"><circle/><text>LAPTM5</text></g>
<g class="r" id="r68" transform="translate(657 549)"><circle/><text>COTK</text></g>
<g class="r" id="r69" transform="translate(630 556)"><circle/><text>GHTBB</text></g>
<g class="r" id="r70" transform="translate(596 560)"><circle/><text>ITGB2</text></g>
<g class="r" id="r71" transform="translate(670 560)"><circle/><text>TREM2</text></g>
<g class="r" id="r72" transform="translate(647 562)"><circle/><text>LCP2</text></g>
<g class="r" id="r73" transform="translate(699 562)"><circle/><text>SLC39A1</text></g>
<g class="r" id="r74" transform="translate(657 568)"><circle/><text>MYL3</text></g>
<g class="r" id="r75" transform="translate(515 564)"><circle/><text>PCSK2</text></g>
<g class="r" id="r76" transform="translate(569 567)"><circle/><text>ITPKB</text></g>
<g class="r" id="r77" transform="translate(612 570)"><circle/><text>TLR1</text></g>
<g class="r" id="r78" transform="translate(586 570)"><circle/><text>SLA</text></g>
<g class="r" id="r79" transform="translate(637 573)"><circle/><text>TYB</text></g>
<g class="r" id="r80" transform="translate(538 575)"><circle/><text>TAGLN2</text></g>
<g class="r" id="r81" transform="translate(599 576)"><circle/><text>FLNA</text></g>
<g class="r" id="r82" transform="translate(627 580)"><circle/><text>PLEK</text></g>
<g class="r" id="r83" transform="translate(650 582)"><circle/><text>MYO9</text></g>
<g class="r" id="r84" transform="translate(586 583)"><circle/><text>ADAM8</text></g>
<g class="r" id="r85" transform="translate(613 586)"><circle/><text>FERMT3</text></g>
<g class="r" id="r86" transform="translate(512 589)"><circle/><text>CTSZ</text></g>
<g class="r" id="r87" transform="translate(597 592)"><circle/><text>LPXN</text></g>
<g class="r" id="r88" transform="translate(660 593)"><circle/><text>MYO5</text></g>
<g class="r" id="r89" transform="translate(610 599)"><circle/><text>SIPA</text></g>
<g class="r" id="r90" transform="translate(580 604)"><circle/><text>LCP1</text></g>
<g class="r" id="r91" transform="translate(626 604)"><circle/><text>VCL</text></g>
<g class="r" id="r92" transform="translate(718 602)"><circle/><text>CP</text></g>
<g class="r" id="r93" transform="translate(547 607)"><circle/><text>ITPKB</text></g>
<g class="r" id="r94" transform="translate(591 610)"><circle/><text>ZYX</text></g>
<g class="r" id="r95" transform="translate(671 613)"><circle/><text>PPP1R14A</text></g>
<g class="r" id="r96" transform="translate(570 614)"><circle/><text>CNN2</text></g>
<g class="r" id="r97" transform="translate(599 623)"><circle/><text>CORO1A</text></g>
<g class="r" id="r98" transform="translate(493 625)"><circle/><text>CTSA</text></g>
<g class="r" id="r99" transform="translate(586 628)"><circle/><text>TESK2</text></g>
<g class="r" id="r100" transform="translate(610 642)"><circle/><text>FBXO2</text></g>
<g class="r" id="r101" transform="translate(636 646)"><circle/><text>LIMA1</text></g>
<g class="r" id="r102" transform="translate(622 652)"><circle/><text>PFKL2</text></g>
<g class="r" id="r103" transform="translate(599 653)"><circle/><text>MYO1F</text></g>
<g class="r" id="r104" transform="translate(753 378)"><circle/><text>PLOD1</text></g>
<g class="r" id="r105" transform="translate(712 394)"><circle/><text>SEPT7</text></g>
<g class="r" id="r106" transform="translate(742 393)"><circle/><text>ARCDA</text></g>
<g class="r" id="r107" transform="translate(725 407)"><circle/><text>PTPN7</text></g>
<g class="r" id="r108" transform="translate(733 421)"><circle/><text>DGKZL</text></g>
<g class="r" id="r109" transform="translate(694 418)"><circle/><text>IRF</text></g>
<g class="r" id="r110" transform="translate(655 422)"><circle/><text>VMP1</text></g>
<g class="r" id="r111" transform="translate(677 423)"><circle/><text>FAS</text></g>
<g class="r" id="r112" transform="translate(688 430)"><circle/><text>PIK</text></g>
<g class="r" id="r113" transform="translate(709 427)"><circle/><text>DUSP22</text></g>
<g class="r" id="r114" transform="translate(767 436)"><circle/><text>ARHGAP25</text></g>
<g class="r" id="r115" transform="translate(758 449)"><circle/><text>ARHGAP18</text></g>
<g class="r" id="r116" transform="translate(777 455)"><circle/><text>SRGAP3</text></g>
<g class="r" id="r117" transform="translate(739 464)"><circle/><text>IL1B</text></g>
<g class="y" id="y1" transform="translate(827 460)"><circle/><text>EIF4E</text></g>
<g class="y" id="y2" transform="translate(792 465)"><circle/><text>CD38</text></g>
<g class="y" id="y3" transform="translate(804 480)"><circle/><text>HSPA5</text></g>
<g class="y" id="y4" transform="translate(872 484)"><circle/><text>UPP1</text></g>
<g class="y" id="y5" transform="translate(831 486)"><circle/><text>WNK4</text></g>
<g class="y" id="y6" transform="translate(790 500)"><circle/><text>SEMA4A</text></g>
<g class="y" id="y7" transform="translate(756 505)"><circle/><text>BCAP31</text></g>
<g class="y" id="y8" transform="translate(839 503)"><circle/><text>NT5C1B</text></g>
<g class="y" id="y9" transform="translate(903 505)"><circle/><text>PNP</text></g>
<g class="y" id="y10" transform="translate(801 517)"><circle/><text>NLRP3</text></g>
<g class="y" id="y11" transform="translate(775 519)"><circle/><text>CRELD2</text></g>
<g class="y" id="y12" transform="translate(813 529)"><circle/><text>PRMT8</text></g>
<g class="y" id="y13" transform="translate(799 535)"><circle/><text>EIF4A1</text></g>
<g class="y" id="y14" transform="translate(876 535)"><circle/><text>ADA</text></g>
<g class="y" id="y15" transform="translate(742 541)"><circle/><text>HSP90B1</text></g>
<g class="y" id="y16" transform="translate(846 547)"><circle/><text>TARS</text></g>
<g class="y" id="y17" transform="translate(780 547)"><circle/><text>KERA</text></g>
<g class="y" id="y18" transform="translate(732 551)"><circle/><text>PHGD</text></g>
<g class="y" id="y19" transform="translate(834 555)"><circle/><text>BTG1</text></g>
<g class="y" id="y20" transform="translate(762 556)"><circle/><text>CTSC</text></g>
<g class="y" id="y21" transform="translate(855 559)"><circle/><text>CCT3</text></g>
<g class="y" id="y22" transform="translate(767 567)"><circle/><text>PDIA5</text></g>
<g class="y" id="y23" transform="translate(799 566)"><circle/><text>DNAJC11</text></g>
<g class="y" id="y24" transform="translate(732 566)"><circle/><text>PRKCSH</text></g>
<g class="y" id="y25" transform="translate(748 573)"><circle/><text>LRRC1D</text></g>
<g class="y" id="y26" transform="translate(822 572)"><circle/><text>GRPEL1</text></g>
<g class="y" id="y27" transform="translate(870 572)"><circle/><text>GARS</text></g>
<g class="y" id="y28" transform="translate(778 577)"><circle/><text>SEC61A1</text></g>
<g class="y" id="y29" transform="translate(881 581)"><circle/><text>TRAF3IP3</text></g>
<g class="y" id="y30" transform="translate(847 604)"><circle/><text>EIF3B</text></g>
<g class="y" id="y31" transform="translate(889 604)"><circle/><text>AEN</text></g>
<g class="y" id="y32" transform="translate(760 609)"><circle/><text>POC5H</text></g>
<g class="y" id="y33" transform="translate(794 606)"><circle/><text>COX18</text></g>
<g class="y" id="y34" transform="translate(763 627)"><circle/><text>MOGS1</text></g>
<g class="y" id="y35" transform="translate(779 634)"><circle/><text>GCH1</text></g>
<g class="y" id="y36" transform="translate(804 636)"><circle/><text>POLR2E</text></g>
<g class="y" id="y37" transform="translate(864 638)"><circle/><text>NOP2</text></g>
<g class="y" id="y38" transform="translate(875 646)"><circle/><text>TOMM40</text></g>
<g class="y" id="y39" transform="translate(853 648)"><circle/><text>FBL</text></g>
<g class="y" id="y40" transform="translate(835 654)"><circle/><text>NOP56</text></g>
<g class="y" id="y41" transform="translate(846 664)"><circle/><text>RPS2</text></g>
<g class="y" id="y42" transform="translate(876 664)"><circle/><text>NSUN5</text></g>
<g class="y" id="y43" transform="translate(862 670)"><circle/><text>CIRH1A</text></g>
<g class="y" id="y44" transform="translate(788 661)"><circle/><text>GUCY1A2</text></g>
<g class="y" id="y45" transform="translate(840 676)"><circle/><text>NHP2</text></g>
<g class="y" id="y46" transform="translate(821 679)"><circle/><text>CTPS</text></g>
<g class="y" id="y47" transform="translate(867 681)"><circle/><text>NOP10</text></g>
<g class="y" id="y48" transform="translate(886 687)"><circle/><text>GM9797</text></g>
<g class="y" id="y49" transform="translate(862 694)"><circle/><text>RPL22L1</text></g>
<g class="y" id="y50" transform="translate(856 707)"><circle/><text>RPS19BP1</text></g>
<g class="y" id="y51" transform="translate(812 709)"><circle/><text>SNRPB</text></g>
<g class="y" id="y52" transform="translate(825 739)"><circle/><text>WDR77</text></g>
<g class="m" id="m1" transform="translate(365 510)"><circle/><text>GRIK2</text></g>
<g class="m" id="m2" transform="translate(418 508)"><circle/><text>GRIN1</text></g>
<g class="m" id="m3" transform="translate(368 531)"><circle/><text>GRIA5</text></g>
<g class="m" id="m4" transform="translate(396 527)"><circle/><text>RASGRF1</text></g>
<g class="m" id="m5" transform="translate(422 535)"><circle/><text>CCL5</text></g>
<g class="m" id="m6" transform="translate(405 539)"><circle/><text>SST</text></g>
<g class="m" id="m7" transform="translate(388 541)"><circle/><text>CNR1</text></g>
<g class="m" id="m8" transform="translate(404 547)"><circle/><text>ANXA1</text></g>
<g class="m" id="m9" transform="translate(385 553)"><circle/><text>RGS19</text></g>
<g class="m" id="m10" transform="translate(416 558)"><circle/><text>CCR5</text></g>
<g class="m" id="m11" transform="translate(367 560)"><circle/><text>NMU</text></g>
<g class="m" id="m12" transform="translate(388 563)"><circle/><text>S1PR3</text></g>
<g class="m" id="m13" transform="translate(348 566)"><circle/><text>RGS18</text></g>
<g class="m" id="m14" transform="translate(407 569)"><circle/><text>CCR2</text></g>
<g class="m" id="m15" transform="translate(376 569)"><circle/><text>IGF</text></g>
<g class="m" id="m16" transform="translate(324 571)"><circle/><text>NPFFR2</text></g>
<g class="m" id="m17" transform="translate(361 572)"><circle/><text>GRIN3</text></g>
<g class="m" id="m18" transform="translate(393 576)"><circle/><text>CXCR5</text></g>
<g class="m" id="m19" transform="translate(431 575)"><circle/><text>TNFRSF1B</text></g>
<g class="m" id="m20" transform="translate(341 577)"><circle/><text>RGS2</text></g>
<g class="m" id="m21" transform="translate(370 581)"><circle/><text>APLNR</text></g>
<g class="m" id="m22" transform="translate(411 588)"><circle/><text>GNAI3</text></g>
<g class="m" id="m23" transform="translate(346 587)"><circle/><text>GRB17</text></g>
<g class="m" id="m24" transform="translate(391 592)"><circle/><text>RGS1</text></g>
<g class="m" id="m25" transform="translate(358 593)"><circle/><text>NPY2R</text></g>
<g class="m" id="m26" transform="translate(377 599)"><circle/><text>CHRM2</text></g>
<g class="m" id="m27" transform="translate(433 597)"><circle/><text>ARCY1</text></g>
<g class="m" id="m28" transform="translate(364 609)"><circle/><text>FIC</text></g>
<g class="m" id="m29" transform="translate(381 618)"><circle/><text>SCN1A</text></g>
<g class="m" id="m30" transform="translate(394 627)"><circle/><text>RGS16</text></g>
<g class="m" id="m31" transform="translate(379 633)"><circle/><text>RASD1</text></g>
<g class="o" id="o1" transform="translate(448 652)"><circle/><text>DNM2</text></g>
<g class="o" id="o2" transform="translate(477 663)"><circle/><text>SYN2</text></g>
<g class="o" id="o3" transform="translate(428 679)"><circle/><text>PACSIN3</text></g>
<g class="o" id="o4" transform="translate(458 694)"><circle/><text>MTMR11</text></g>
<g class="o" id="o5" transform="translate(500 690)"><circle/><text>CLINT1</text></g>
<g class="p" id="p1" transform="translate(548 688)"><circle/><text>CORO1C</text></g>
<g class="p" id="p2" transform="translate(562 695)"><circle/><text>MEGF10</text></g>
<g class="p" id="p3" transform="translate(575 701)"><circle/><text>MYO1A</text></g>
<g class="p" id="p4" transform="translate(556 708)"><circle/><text>CORO1B</text></g>
<g class="p" id="p5" transform="translate(581 714)"><circle/><text>ACTR2</text></g>
<g class="p" id="p6" transform="translate(635 704)"><circle/><text>CAPG</text></g>
<g class="p" id="p7" transform="translate(601 720)"><circle/><text>ARPC5</text></g>
<g class="p" id="p8" transform="translate(556 734)"><circle/><text>MYO1B</text></g>
<g class="p" id="p9" transform="translate(595 742)"><circle/><text>ARPC4</text></g>
<g class="p" id="p10" transform="translate(566 752)"><circle/><text>ARPC1B</text></g>
<g class="p" id="p11" transform="translate(520 757)"><circle/><text>WIPF1</text></g>
</g>
<g id="labels">
<text class="L" x="932" y="27" fill="#10ee10">Cell cycle</text><text class="n" x="1071" y="25">(4)</text>
<text class="S" x="932" y="49" fill="#10ee10">Dna metabolism mitosis,</text>
<text class="S" x="932" y="67" fill="#10ee10">cell proliferation,</text>
<text class="S" x="932" y="85" fill="#10ee10">chromosome segregation,</text>
<text class="L o1" x="572" y="107" fill="#f0d060">Myelination</text><text class="n" x="733" y="110">(12)</text>
<text class="L" x="150" y="192" style="font-size:25.4px" fill="#00b870">Aminoacid metabolism</text><text class="n" x="436" y="195" style="font-size:14px">(6)</text>
<text class="L" x="537" y="194" style="font-size:21.5px" fill="#ff80c0">Monoamine metabolism</text><text class="n" x="789" y="195">(10)</text>
<text class="L o1" x="46" y="284" style="stroke:#80a8d8" fill="#a8d4f4">Steroid metabolism</text>
<text class="S o1" x="46" y="306" style="stroke-width:.4;stroke:#80a8d8" fill="#a8d4f4">Lipid syntesys</text><text class="n" x="183" y="309">(3)</text>
<text class="L o1" x="806" y="306" fill="#f2c86c">Regulation of cell cycle</text><text class="n" x="1125" y="307">(7)</text>
<text class="L" x="783" y="343" fill="#0000dc">Extracellular matrix</text><text class="n" x="1050" y="345">(1)</text>
<text class="S" x="783" y="364" fill="#0000dc">Inmune response</text>
<text class="S" x="783" y="384" fill="#0000dc">Apoptosis</text>
<text class="L" x="867" y="414" fill="#ee0000">Inmune response</text><text class="n" x="1105" y="416">(2)</text>
<text class="S" x="867" y="436" fill="#ee0000">Angiogenesis</text>
<text class="S" x="867" y="458" fill="#ee0000">Axon Guidance</text>
<text class="S" x="867" y="478" fill="#ee0000">Apoptosis</text>
<text class="L" x="4" y="452" fill="#10f0d8">Carbohydrate metabolism</text><text class="n" x="355" y="455">(13)</text>
<text class="L" x="65" y="549" fill="#ff00e0">Neurotransmission</text><text class="n" x="324" y="551">(8)</text>
<text class="S" x="65" y="571" fill="#ff00e0">glutamatergic</text>
<text class="L o1" x="895" y="657" fill="#f8f000">Protein syntesis</text><text class="n" x="1117" y="659">(5)</text>
<text class="S o1" x="895" y="680" style="stroke-width:.4" fill="#f0e000">Transcription</text>
<text class="L" x="150" y="706" fill="#b8b800">Vesicular transport</text><text class="n" x="411" y="709">(11)</text>
<text class="L" x="309" y="770" style="font-size:27.3px" fill="#b000e8">Cytoskeleton</text><text class="n" x="492" y="772">(9)</text>
<text class="S" x="309" y="792" fill="#b000e8">chemotaxis</text>
</g>
</svg>
